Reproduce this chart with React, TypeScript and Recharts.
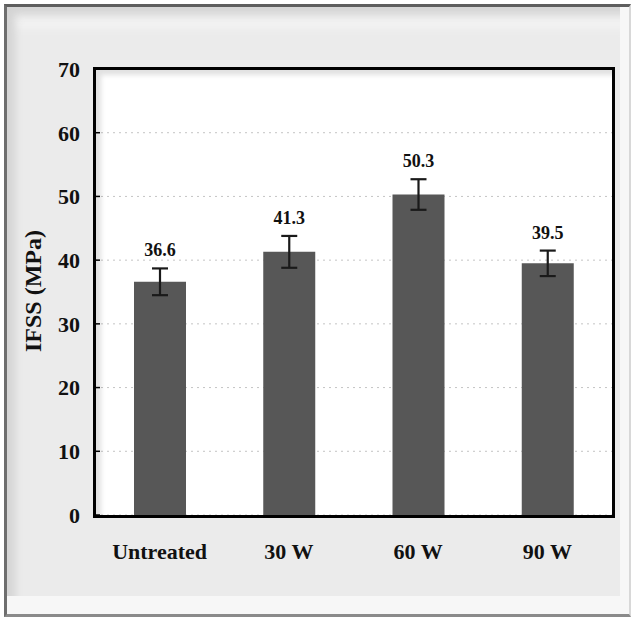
import { ComposedChart, Bar, XAxis, YAxis, CartesianGrid, ErrorBar, LabelList } from 'recharts';

const categories = ['Untreated', '30 W', '60 W', '90 W'];
const ifss = [36.6, 41.3, 50.3, 39.5];
const errors = [2.1, 2.5, 2.4, 2.0];
const yTicks = [0, 10, 20, 30, 40, 50, 60, 70];
const separators = [0, 1, 2, 3, 4];

const data = categories.map((name, i) => ({ name, ifss: ifss[i], err: errors[i] }));

const FONT = '"Liberation Serif", "Times New Roman", serif';

const ValueLabel = (props: any) => {
  const { x, y, width, height, value, index } = props;
  const perUnit = height / value;
  const top = y - errors[index] * perUnit;
  return (
    <text
      x={x + width / 2}
      y={top - 12}
      textAnchor="middle"
      fontFamily={FONT}
      fontWeight="bold"
      fontSize={18}
      fill="#111"
    >
      {value.toFixed(1)}
    </text>
  );
};

export default function App() {
  return (
    <div style={{ position: 'absolute', left: 0, top: 0, width: 635, height: 619, background: '#ffffff' }}>
      {/* bevelled frame */}
      <div
        style={{
          position: 'absolute',
          left: 4,
          top: 4,
          width: 627,
          height: 613,
          boxSizing: 'border-box',
          borderTop: '3px solid #5e5e5e',
          borderLeft: '3px solid #6e6e6e',
          borderRight: '2px solid #d8d8d8',
          borderBottom: '3px solid #8a8a8a',
          background: '#ebebeb',
          boxShadow:
            'inset -9px -18px 0 #f7f7f7, inset 8px 8px 8px #d4d4d4, inset 0 22px 10px #f2f2f2',
        }}
      />
      <ComposedChart
        width={635}
        height={619}
        data={data}
        margin={{ top: 69, right: 23, bottom: 64, left: 35 }}
        style={{ position: 'absolute', left: 0, top: 0 }}
      >
        <CartesianGrid vertical={false} stroke="#c4c4c4" strokeDasharray="2 4" fill="#ffffff" />
        <XAxis
          dataKey="name"
          height={40}
          axisLine={false}
          tickLine={false}
          tickSize={0}
          tickMargin={28}
          tick={{ fontFamily: FONT, fontWeight: 'bold', fontSize: 22, fill: '#111' }}
        />
        <XAxis
          xAxisId="sep"
          type="number"
          domain={[0, 4]}
          ticks={separators}
          height={0}
          axisLine={false}
          tickSize={-6}
          tickLine={{ stroke: '#000', strokeWidth: 1.5 }}
          tick={() => <g />}
        />
        <YAxis
          width={60}
          domain={[0, 70]}
          ticks={yTicks}
          interval={0}
          axisLine={false}
          tickSize={-5}
          tickMargin={20}
          tickLine={{ stroke: '#000', strokeWidth: 1.5 }}
          tick={{ fontFamily: FONT, fontWeight: 'bold', fontSize: 22, fill: '#111' }}
          label={{
            content: () => (
              <text
                x={33}
                y={291}
                transform="rotate(-90 33 291)"
                textAnchor="middle"
                dominantBaseline="central"
                fontFamily={FONT}
                fontWeight="bold"
                fontSize={24}
                fill="#111"
              >
                IFSS (MPa)
              </text>
            ),
          }}
        />
        <Bar dataKey="ifss" fill="#575757" barSize={52} isAnimationActive={false}>
          <ErrorBar dataKey="err" width={8} stroke="#1a1a1a" strokeWidth={2.2} direction="y" />
          <LabelList dataKey="ifss" content={ValueLabel} />
        </Bar>
      </ComposedChart>
      {/* plot frame */}
      <div
        style={{
          position: 'absolute',
          left: 93,
          top: 67,
          width: 522,
          height: 451,
          boxSizing: 'border-box',
          border: '3px solid #000',
          boxShadow: 'inset 5px 5px 5px rgba(0,0,0,0.12)',
          pointerEvents: 'none',
        }}
      />
    </div>
  );
}
